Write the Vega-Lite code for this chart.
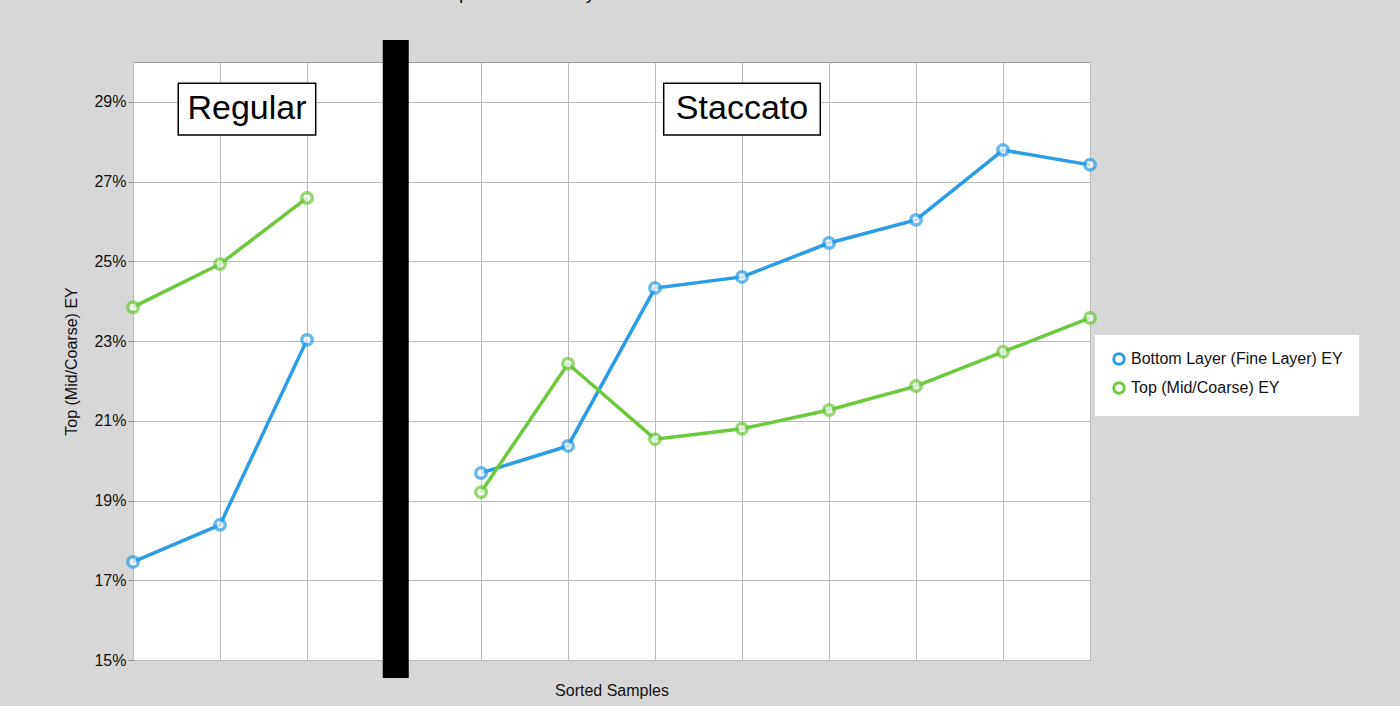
{
  "$schema": "https://vega.github.io/schema/vega-lite/v6.json",
  "width": 957,
  "height": 598,
  "autosize": "none",
  "padding": {"left": 133, "top": 62, "right": 310, "bottom": 46},
  "background": "#d7d7d7",
  "config": {"view": {"fill": "white", "stroke": "#999"}, "font": "Liberation Sans"},
  "title": {"text": "Top vs Bottom Layers in Dried EY Sorted", "fontSize": 19, "fontWeight": "normal", "color": "#111", "offset": 24},
  "datasets": {
    "pts": [
      {"series": "Bottom Layer (Fine Layer) EY", "grp": "R", "x": 0, "y": 17.46},
      {"series": "Bottom Layer (Fine Layer) EY", "grp": "R", "x": 1, "y": 18.39},
      {"series": "Bottom Layer (Fine Layer) EY", "grp": "R", "x": 2, "y": 23.03},
      {"series": "Top (Mid/Coarse) EY", "grp": "R", "x": 0, "y": 23.85},
      {"series": "Top (Mid/Coarse) EY", "grp": "R", "x": 1, "y": 24.93},
      {"series": "Top (Mid/Coarse) EY", "grp": "R", "x": 2, "y": 26.59},
      {"series": "Bottom Layer (Fine Layer) EY", "grp": "S", "x": 4, "y": 19.69},
      {"series": "Bottom Layer (Fine Layer) EY", "grp": "S", "x": 5, "y": 20.37},
      {"series": "Bottom Layer (Fine Layer) EY", "grp": "S", "x": 6, "y": 24.33},
      {"series": "Bottom Layer (Fine Layer) EY", "grp": "S", "x": 7, "y": 24.61},
      {"series": "Bottom Layer (Fine Layer) EY", "grp": "S", "x": 8, "y": 25.46},
      {"series": "Bottom Layer (Fine Layer) EY", "grp": "S", "x": 9, "y": 26.04},
      {"series": "Bottom Layer (Fine Layer) EY", "grp": "S", "x": 10, "y": 27.79},
      {"series": "Bottom Layer (Fine Layer) EY", "grp": "S", "x": 11, "y": 27.42},
      {"series": "Top (Mid/Coarse) EY", "grp": "S", "x": 4, "y": 19.21},
      {"series": "Top (Mid/Coarse) EY", "grp": "S", "x": 5, "y": 22.43},
      {"series": "Top (Mid/Coarse) EY", "grp": "S", "x": 6, "y": 20.54},
      {"series": "Top (Mid/Coarse) EY", "grp": "S", "x": 7, "y": 20.8},
      {"series": "Top (Mid/Coarse) EY", "grp": "S", "x": 8, "y": 21.27},
      {"series": "Top (Mid/Coarse) EY", "grp": "S", "x": 9, "y": 21.87},
      {"series": "Top (Mid/Coarse) EY", "grp": "S", "x": 10, "y": 22.73},
      {"series": "Top (Mid/Coarse) EY", "grp": "S", "x": 11, "y": 23.58}
    ],
    "boxes": [
      {"label": "Regular", "x1": 0.52, "x2": 2.1, "xm": 1.31, "y1": 29.47, "y2": 28.17, "ym": 28.82},
      {"label": "Staccato", "x1": 6.1, "x2": 7.9, "xm": 7.0, "y1": 29.47, "y2": 28.17, "ym": 28.82}
    ],
    "bar": [{"x": 3.02, "y1": 30.55, "y2": 14.55}]
  },
  "layer": [
    {
      "data": {"name": "pts"},
      "mark": {"type": "line", "strokeWidth": 3.5},
      "encoding": {
        "x": {"field": "x", "type": "quantitative", "scale": {"domain": [0, 11], "nice": false},
          "axis": {"values": [0,1,2,3,4,5,6,7,8,9,10,11], "labels": false, "ticks": false, "domain": false, "gridColor": "#bbb", "title": "Sorted Samples", "titleFontSize": 16, "titleFontWeight": "normal", "titleColor": "#111", "titlePadding": 22}},
        "y": {"field": "y", "type": "quantitative", "scale": {"domain": [15, 30], "nice": false},
          "axis": {"values": [15,16,17,18,19,20,21,22,23,24,25,26,27,28,29,30], "labelOverlap": false, "labelFlush": false, "labelExpr": "datum.value + '%'", "labelFontSize": 16, "labelColor": "#111", "ticks": true, "tickColor": "#888", "domain": false, "gridColor": "#bbb", "title": "Top (Mid/Coarse) EY", "titleFontSize": 16, "titleFontWeight": "normal", "titleColor": "#111", "titlePadding": 14}},
        "color": {"field": "series", "type": "nominal", "scale": {"range": ["#2b9ce6", "#6cc83c"]},
          "legend": {"orient": "none", "legendX": 962, "legendY": 273, "title": null, "fillColor": "white", "padding": 16, "labelFontSize": 16, "labelColor": "#111", "symbolType": "circle", "symbolFillColor": "white", "symbolStrokeWidth": 3, "symbolSize": 110, "rowPadding": 5, "labelLimit": 300}},
        "detail": {"field": "grp"}
      }
    },
    {
      "data": {"name": "pts"},
      "mark": {"type": "point", "filled": true, "fill": "white", "strokeWidth": 3.5, "size": 110},
      "encoding": {
        "x": {"field": "x", "type": "quantitative"},
        "y": {"field": "y", "type": "quantitative"},
        "stroke": {"field": "series", "type": "nominal", "scale": {"range": ["#2b9ce6", "#6cc83c"]}, "legend": null}
      }
    },
    {
      "data": {"name": "bar"},
      "mark": {"type": "rule", "strokeWidth": 26, "color": "black", "clip": false},
      "encoding": {
        "x": {"field": "x", "type": "quantitative"},
        "y": {"field": "y1", "type": "quantitative"},
        "y2": {"field": "y2"}
      }
    },
    {
      "data": {"name": "boxes"},
      "mark": {"type": "rect", "fill": "white", "stroke": "black", "strokeWidth": 1.5},
      "encoding": {
        "x": {"field": "x1", "type": "quantitative"},
        "x2": {"field": "x2"},
        "y": {"field": "y1", "type": "quantitative"},
        "y2": {"field": "y2"}
      }
    },
    {
      "data": {"name": "boxes"},
      "mark": {"type": "text", "fontSize": 34, "color": "black"},
      "encoding": {
        "x": {"field": "xm", "type": "quantitative"},
        "y": {"field": "ym", "type": "quantitative"},
        "text": {"field": "label"}
      }
    }
  ]
}
